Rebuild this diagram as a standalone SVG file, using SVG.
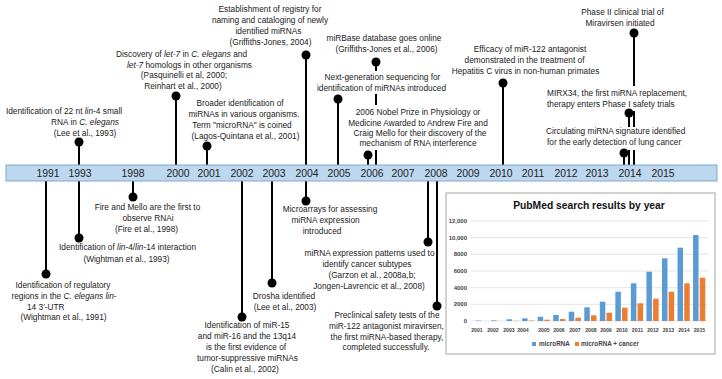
<svg xmlns="http://www.w3.org/2000/svg" width="722" height="379" viewBox="0 0 722 379">
<style>
text{font-family:"Liberation Sans",Arial,Helvetica,sans-serif;fill:#222}
.t{font-size:8.3px;text-anchor:middle}
.ts{font-size:8.3px;text-anchor:start}
.yr{font-size:10.4px;text-anchor:middle;fill:#222}
.stem{stroke:#000;stroke-width:2;fill:none}
.dot{fill:#000}
.bg{fill:#fff}
.i{font-style:italic}
.grid{stroke:#d9d9d9;stroke-width:0.7}
.ax{font-size:6px;font-weight:bold;text-anchor:end;fill:#444}
.xl{font-size:5.2px;font-weight:bold;text-anchor:middle;fill:#444}
.b{fill:#5b9bd5}
.o{fill:#ed7d31}
</style>
<rect width="722" height="379" fill="#fff"/>

<g id="connectors">
<line class="stem" x1="79" y1="142" x2="79" y2="166"/>
<line class="stem" x1="176" y1="96" x2="176" y2="166"/>
<line class="stem" x1="207" y1="146" x2="207" y2="166"/>
<line class="stem" x1="306" y1="55" x2="306" y2="166"/>
<line class="stem" x1="338" y1="99" x2="338" y2="166"/>
<line class="stem" x1="376" y1="62" x2="376" y2="166"/>
<line class="stem" x1="368" y1="155" x2="368" y2="166"/>
<line class="stem" x1="503" y1="83" x2="503" y2="166"/>
<line class="stem" x1="634" y1="33" x2="634" y2="166"/>
<line class="stem" x1="629" y1="113" x2="629" y2="166"/>
<line class="stem" x1="624" y1="153" x2="624" y2="166"/>
<line class="stem" x1="46" y1="180" x2="46" y2="274"/>
<line class="stem" x1="79" y1="180" x2="79" y2="238"/>
<line class="stem" x1="133" y1="180" x2="133" y2="197"/>
<line class="stem" x1="242" y1="180" x2="242" y2="317"/>
<line class="stem" x1="272" y1="180" x2="272" y2="283"/>
<line class="stem" x1="306" y1="180" x2="306" y2="201"/>
<line class="stem" x1="428" y1="180" x2="428" y2="242"/>
<line class="stem" x1="437" y1="180" x2="437" y2="306"/>
</g>

<g id="timeline">
<rect x="6" y="165" width="711" height="16" fill="#bdd7ee" stroke="#80a7cc" stroke-width="1"/>
<text class="yr" x="48" y="176.5">1991</text>
<text class="yr" x="80" y="176.5">1993</text>
<text class="yr" x="133" y="176.5">1998</text>
<text class="yr" x="178" y="176.5">2000</text>
<text class="yr" x="209" y="176.5">2001</text>
<text class="yr" x="242" y="176.5">2002</text>
<text class="yr" x="274" y="176.5">2003</text>
<text class="yr" x="307" y="176.5">2004</text>
<text class="yr" x="339" y="176.5">2005</text>
<text class="yr" x="372" y="176.5">2006</text>
<text class="yr" x="403" y="176.5">2007</text>
<text class="yr" x="436" y="176.5">2008</text>
<text class="yr" x="468" y="176.5">2009</text>
<text class="yr" x="501" y="176.5">2010</text>
<text class="yr" x="533" y="176.5">2011</text>
<text class="yr" x="566" y="176.5">2012</text>
<text class="yr" x="597" y="176.5">2013</text>
<text class="yr" x="630" y="176.5">2014</text>
<text class="yr" x="663" y="176.5">2015</text>
</g>

<g id="e1993-lin4">
<circle class="dot" cx="79" cy="142" r="4.5"/>
<text class="t"><tspan x="64" y="114">Identification of 22 nt <tspan class="i">lin</tspan>-4 small</tspan><tspan x="85" y="125">RNA in <tspan class="i">C. elegans</tspan></tspan><tspan x="85" y="136">(Lee et al., 1993)</tspan></text>
</g>

<g id="e2000-let7">
<circle class="dot" cx="176" cy="96" r="4.5"/>
<text class="t"><tspan x="181.5" y="57">Discovery of <tspan class="i">let-7</tspan> in <tspan class="i">C. elegans</tspan> and</tspan><tspan x="189.5" y="67.5"><tspan class="i">let-7</tspan> homologs in other organisms</tspan><tspan x="184" y="78">(Pasquinelli et al, 2000;</tspan><tspan x="183" y="88.5">Reinhart et al., 2000)</tspan></text>
</g>

<g id="e2001-microRNA">
<circle class="dot" cx="207" cy="146" r="4.5"/>
<text class="t"><tspan x="240" y="106">Broader identification of</tspan><tspan x="244" y="117">miRNAs in various organisms.</tspan><tspan x="242" y="128">Term "microRNA" is coined</tspan><tspan x="245.5" y="139">(Lagos-Quintana et al., 2001)</tspan></text>
</g>

<g id="e2004-registry">
<circle class="dot" cx="306" cy="55" r="4.5"/>
<text class="t"><tspan x="270" y="12">Establishment of registry for</tspan><tspan x="270" y="23">naming and cataloging of newly</tspan><tspan x="268.5" y="34">identified miRNAs</tspan><tspan x="270.5" y="45">(Griffiths-Jones, 2004)</tspan></text>
</g>

<g id="e2006-mirbase">
<circle class="dot" cx="376" cy="62" r="4.5"/>
<text class="t"><tspan x="384" y="41">miRBase database goes online</tspan><tspan x="386.5" y="52">(Griffiths-Jones et al., 2006)</tspan></text>
</g>

<g id="e2005-ngs">
<rect class="bg" x="315" y="71" width="133" height="23"/>
<circle class="dot" cx="338" cy="99" r="4.5"/>
<text class="t"><tspan x="382.5" y="80">Next-generation sequencing for</tspan><tspan x="381.5" y="91">identification of miRNAs introduced</tspan></text>
</g>

<g id="e2006-nobel">
<rect class="bg" x="346" y="105" width="144" height="45"/>
<circle class="dot" cx="368" cy="155" r="4.5"/>
<text class="t"><tspan x="418" y="115">2006 Nobel Prize in Physiology or</tspan><tspan x="418" y="125.5">Medicine Awarded to Andrew Fire and</tspan><tspan x="420" y="135.5">Craig Mello for their discovery of the</tspan><tspan x="418" y="146">mechanism of RNA interference</tspan></text>
</g>

<g id="e2010-efficacy">
<circle class="dot" cx="503" cy="83" r="4.5"/>
<text class="t"><tspan x="530" y="52">Efficacy of miR-122 antagonist</tspan><tspan x="524.5" y="63">demonstrated in the treatment of</tspan><tspan x="525.5" y="74">Hepatitis C virus in non-human primates</tspan></text>
</g>

<g id="e2014-phase2">
<circle class="dot" cx="634" cy="33" r="4.5"/>
<text class="t"><tspan x="622.5" y="15">Phase II clinical trial of</tspan><tspan x="620" y="26">Miravirsen initiated</tspan></text>
</g>

<g id="e2014-mirx34">
<rect class="bg" x="545" y="86" width="146" height="25"/>
<circle class="dot" cx="629" cy="113" r="4.5"/>
<text class="ts"><tspan x="547" y="96">MIRX34, the first miRNA  replacement,</tspan><tspan x="547" y="107">therapy enters Phase I safety trials</tspan></text>
</g>

<g id="e2014-circulating">
<rect class="bg" x="544" y="127" width="144" height="23"/>
<circle class="dot" cx="624" cy="153" r="4.5"/>
<text class="ts"><tspan x="546" y="134">Circulating miRNA signature identified</tspan><tspan x="547" y="145">for the early detection of lung cancer</tspan></text>
</g>

<g id="e1991-utr">
<circle class="dot" cx="46" cy="274" r="4.5"/>
<text class="t"><tspan x="63" y="288">Identification of regulatory</tspan><tspan x="64" y="299">regions in the <tspan class="i">C. elegans lin</tspan>-</tspan><tspan x="27" y="309.5" style="text-anchor:start">14 3′-UTR</tspan><tspan x="63.5" y="320">(Wightman et al., 1991)</tspan></text>
</g>

<g id="e1993-interaction">
<circle class="dot" cx="79" cy="238" r="4.5"/>
<text class="t"><tspan x="127.5" y="250">Identification of <tspan class="i">lin</tspan>-4/<tspan class="i">lin</tspan>-14 interaction</tspan><tspan x="126.5" y="261.5">(Wightman et al., 1993)</tspan></text>
</g>

<g id="e1998-rnai">
<circle class="dot" cx="133" cy="197" r="4.5"/>
<text class="t"><tspan x="147.5" y="210">Fire and Mello are the first to</tspan><tspan x="148" y="221">observe RNAi</tspan><tspan x="146.5" y="232">(Fire et al., 1998)</tspan></text>
</g>

<g id="e2002-mir15">
<circle class="dot" cx="242" cy="317" r="4.5"/>
<text class="t"><tspan x="247" y="328">Identification of miR-15</tspan><tspan x="247" y="339">and miR-16 and the 13q14</tspan><tspan x="246" y="349.5">is the first evidence of</tspan><tspan x="247.5" y="360.5">tumor-suppressive miRNAs</tspan><tspan x="245" y="371.5">(Calin et al., 2002)</tspan></text>
</g>

<g id="e2003-drosha">
<circle class="dot" cx="272" cy="283" r="4.5"/>
<text class="t"><tspan x="284" y="299">Drosha identified</tspan><tspan x="285" y="309.5">(Lee et al., 2003)</tspan></text>
</g>

<g id="e2004-microarrays">
<circle class="dot" cx="306" cy="201" r="4.5"/>
<text class="t"><tspan x="330" y="212">Microarrays for assessing</tspan><tspan x="325.5" y="223">miRNA expression</tspan><tspan x="322" y="234">introduced</tspan></text>
</g>

<g id="e2008-subtypes">
<circle class="dot" cx="428" cy="242" r="4.5"/>
<text class="t"><tspan x="369.5" y="256">miRNA expression patterns used to</tspan><tspan x="367" y="266.5">identify cancer subtypes</tspan><tspan x="372" y="277.5">(Garzon et al., 2008a,b;</tspan><tspan x="369" y="288.5">Jongen-Lavrencic et al., 2008)</tspan></text>
</g>

<g id="e2008-preclinical">
<circle class="dot" cx="437" cy="306" r="4.5"/>
<text class="t"><tspan x="387" y="318">Preclinical safety tests of the</tspan><tspan x="386.5" y="329">miR-122 antagonist miravirsen,</tspan><tspan x="387" y="339.5">the first miRNA-based therapy,</tspan><tspan x="386" y="350">completed successfully.</tspan></text>
</g>

<g id="chart">
<rect x="446" y="193" width="269" height="161" fill="#fff" stroke="#a6a6a6" stroke-width="1"/>
<text x="589" y="208.5" style="font-size:10.3px;font-weight:bold;text-anchor:middle;fill:#111">PubMed search results by year</text>
<line class="grid" x1="471" y1="221" x2="708" y2="221"/>
<line class="grid" x1="471" y1="237.7" x2="708" y2="237.7"/>
<line class="grid" x1="471" y1="254.3" x2="708" y2="254.3"/>
<line class="grid" x1="471" y1="271" x2="708" y2="271"/>
<line class="grid" x1="471" y1="287.7" x2="708" y2="287.7"/>
<line class="grid" x1="471" y1="304.3" x2="708" y2="304.3"/>
<line class="grid" x1="471" y1="321" x2="708" y2="321"/>
<text class="ax" x="467" y="223">12,000</text>
<text class="ax" x="467" y="239.7">10,000</text>
<text class="ax" x="467" y="256.3">8000</text>
<text class="ax" x="467" y="273">6000</text>
<text class="ax" x="467" y="289.7">4000</text>
<text class="ax" x="467" y="306.3">2000</text>
<text class="ax" x="467" y="323">0</text>
<rect class="b" x="475.5" y="320.6" width="5.5" height="0.4"/>
<rect class="b" x="491.04" y="320.4" width="5.5" height="0.6"/>
<rect class="b" x="506.58" y="319.3" width="5.5" height="1.7"/>
<rect class="b" x="522.12" y="318.3" width="5.5" height="2.7"/>
<rect class="b" x="537.66" y="316.7" width="5.5" height="4.3"/>
<rect class="b" x="553.2" y="315" width="5.5" height="6"/>
<rect class="b" x="568.74" y="311.7" width="5.5" height="9.3"/>
<rect class="b" x="584.28" y="307.3" width="5.5" height="13.7"/>
<rect class="b" x="599.82" y="301.7" width="5.5" height="19.3"/>
<rect class="b" x="615.36" y="291.7" width="5.5" height="29.3"/>
<rect class="b" x="630.9" y="283.3" width="5.5" height="37.7"/>
<rect class="b" x="646.44" y="271.7" width="5.5" height="49.3"/>
<rect class="b" x="661.98" y="258.3" width="5.5" height="62.7"/>
<rect class="b" x="677.52" y="247.7" width="5.5" height="73.3"/>
<rect class="b" x="693.06" y="235" width="5.5" height="86"/>
<rect class="o" x="513.28" y="320.8" width="5.5" height="0.2"/>
<rect class="o" x="528.82" y="320.6" width="5.5" height="0.4"/>
<rect class="o" x="544.36" y="319.7" width="5.5" height="1.3"/>
<rect class="o" x="559.9" y="319" width="5.5" height="2"/>
<rect class="o" x="575.44" y="317.7" width="5.5" height="3.3"/>
<rect class="o" x="590.98" y="315.3" width="5.5" height="5.7"/>
<rect class="o" x="606.52" y="312.7" width="5.5" height="8.3"/>
<rect class="o" x="622.06" y="307.7" width="5.5" height="13.3"/>
<rect class="o" x="637.6" y="303.3" width="5.5" height="17.7"/>
<rect class="o" x="653.14" y="298.7" width="5.5" height="22.3"/>
<rect class="o" x="668.68" y="291.7" width="5.5" height="29.3"/>
<rect class="o" x="684.22" y="283.3" width="5.5" height="37.7"/>
<rect class="o" x="699.76" y="277.7" width="5.5" height="43.3"/>
<text class="xl" x="477" y="332">2001</text>
<text class="xl" x="493" y="332">2002</text>
<text class="xl" x="509" y="332">2003</text>
<text class="xl" x="523" y="332">2004</text>
<text class="xl" x="544" y="332">2005</text>
<text class="xl" x="559" y="332">2006</text>
<text class="xl" x="575" y="332">2007</text>
<text class="xl" x="591" y="332">2008</text>
<text class="xl" x="606" y="332">2009</text>
<text class="xl" x="622" y="332">2010</text>
<text class="xl" x="637.5" y="332">2011</text>
<text class="xl" x="653" y="332">2012</text>
<text class="xl" x="668.5" y="332">2013</text>
<text class="xl" x="684" y="332">2014</text>
<text class="xl" x="699.5" y="332">2015</text>
<rect class="b" x="532" y="342" width="4" height="4"/>
<text x="539" y="346.2" style="font-size:6.3px;font-weight:bold;fill:#444">microRNA</text>
<rect class="o" x="575" y="342" width="4" height="4"/>
<text x="581" y="346.2" style="font-size:6.3px;font-weight:bold;fill:#444">microRNA + cancer</text>
</g>
</svg>
